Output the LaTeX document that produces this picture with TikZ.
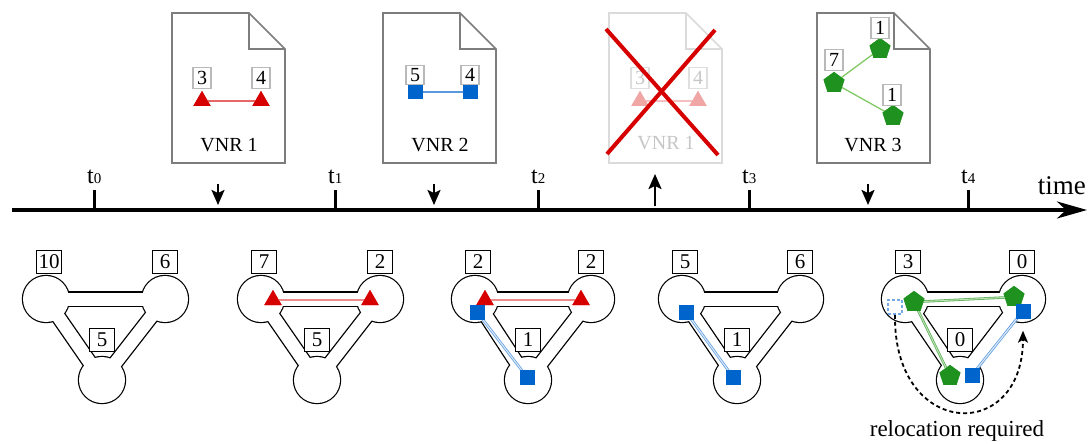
\documentclass[tikz,border=0pt]{standalone}
\usepackage{fontspec}
\setmainfont{Liberation Serif}
\usetikzlibrary{shapes.geometric,arrows.meta}

\definecolor{vred}{RGB}{215,0,0}
\definecolor{vblue}{RGB}{0,100,205}
\definecolor{vgreen}{RGB}{30,145,30}
\definecolor{vgreenl}{RGB}{130,200,100}
\definecolor{docgray}{RGB}{125,125,125}

\tikzset{
  docline/.style={draw=docgray, line width=1.6pt, fill=white, line join=miter},
  hub/.style={circle, minimum size=46pt, inner sep=0pt, draw=none},
  rim/.style={line width=15.6pt, black},
  bore/.style={line width=13pt, white},
  capbox/.style={draw, fill=white, line width=1.2pt, inner sep=0pt,
    minimum width=25pt, minimum height=23pt, font=\fontsize{21}{21}\selectfont},
  dcapbox/.style={draw=gray!55, fill=white, line width=1.1pt, inner sep=0pt,
    minimum width=18pt, minimum height=21pt, font=\fontsize{20}{20}\selectfont},
  tri/.style={regular polygon, regular polygon sides=3, fill=vred, inner sep=0pt, minimum size=20pt},
  pent/.style={regular polygon, regular polygon sides=5, fill=vgreen, inner sep=0pt, minimum size=22pt},
  sq/.style={rectangle, fill=vblue, inner sep=0pt, minimum size=15pt},
  ghostsq/.style={rectangle, draw=vblue!55, fill=white, dash pattern=on 3pt off 2pt,
    line width=1.5pt, inner sep=0pt, minimum size=14pt},
  redmap/.style={draw=vred, double=vred!45, double distance=1.1pt, line width=0.9pt},
  bluemap/.style={draw=vblue!60, double=vblue!15, double distance=1.1pt, line width=0.8pt},
  greenmap/.style={draw=vgreen!70, double=vgreenl!50, double distance=0.9pt, line width=0.8pt},
  vred link/.style={draw=vred!60, line width=1.2pt},
  vblue link/.style={draw=vblue!65, line width=1.2pt},
  vgreen link/.style={draw=vgreenl, line width=1.3pt},
  doctext/.style={font=\fontsize{20}{20}\selectfont},
  tlabel/.style={font=\fontsize{24}{24}\selectfont, inner sep=0pt, anchor=base west},
  tickmark/.style={line width=3pt},
  event/.style={line width=2.2pt, -{Stealth[length=15pt,width=13pt,inset=3pt]}},
}

% t with a small index
\newcommand\tmark[1]{t{\fontsize{15}{15}\selectfont #1}}

% substrate network: three hubs joined by hollow channels
\newcommand\subnet[4]{%
  \node[hub] (#1a) at (#2,299) {};
  \node[hub] (#1b) at (#3,299) {};
  \node[hub] (#1c) at (#4,380) {};
  \foreach \u/\v in {a/b,a/c,b/c} \draw[rim] (#1\u.center) -- (#1\v.center);
  \foreach \u in {a,b,c} \fill (#1\u) circle[radius=24.2pt];
  \foreach \u/\v in {a/b,a/c,b/c} \draw[bore] (#1\u.center) -- (#1\v.center);
  \foreach \u in {a,b,c} \fill[white] (#1\u) circle[radius=23pt];
}
% capacity boxes of a substrate network
\newcommand\subcaps[4]{%
  \node[capbox] (#1ka) at ([xshift=3pt,yshift=37pt]#1a.center) {#2};
  \node[capbox] (#1kb) at ([yshift=37pt]#1b.center) {#3};
  \node[capbox] (#1kc) at ([yshift=40pt]#1c.center) {#4};
}
% request sheet with folded corner
\newcommand\sheet[3]{%
  \draw[#3] (#2,13) -- ++(77,0) -- ++(36,36) -- ++(0,114) -- ++(-113,0) -- cycle;
  \draw[#3, fill=none] (#2+77,13) -- ++(0,36) -- ++(36,0);
  \coordinate (#1) at (#2+56.5,88);
}

\begin{document}
\begin{tikzpicture}[x=1pt, y=-1pt]
\useasboundingbox (0,0) rectangle (1088,444);

% ---------- time axis ----------
\coordinate (axisL) at (12,210);
\coordinate (axisR) at (1087,210);
\draw[line width=3.2pt, -{Stealth[length=30pt,width=17pt,inset=9pt]}] (axisL) -- (axisR);
\node[font=\fontsize{27}{27}\selectfont, anchor=east, inner sep=0pt] (timelbl) at (1086,186) {time};

\foreach \i/\x in {0/94,1/335,2/538,3/749,4/968}{
  \coordinate (k\i) at (\x,210);
  \draw[tickmark] (k\i) -- ++(0,-20);
  \node[tlabel] (tl\i) at (\x-7,183) {\tmark{\i}};
}

% arrival / departure events
\coordinate (e1a) at (218,184); \coordinate (e1b) at (218,205);
\coordinate (e2a) at (434,184); \coordinate (e2b) at (434,205);
\coordinate (e3a) at (655,206); \coordinate (e3b) at (655,174);
\coordinate (e4a) at (868,184); \coordinate (e4b) at (868,205);
\draw[event] (e1a) -- (e1b);
\draw[event] (e2a) -- (e2b);
\draw[event] (e3a) -- (e3b);
\draw[event] (e4a) -- (e4b);

% ---------- VNR 1 ----------
\sheet{d1}{172}{docline}
\node[tri] (d1x) at (202,101) {};
\node[tri] (d1y) at (261,101) {};
\draw[vred link] (d1x.center) -- (d1y.center);
\node[tri] at (d1x) {};
\node[tri] at (d1y) {};
\node[dcapbox] (d1kx) at (202,78) {3};
\node[dcapbox] (d1ky) at (261,78) {4};
\node[doctext] (d1t) at (229,145) {VNR 1};

% ---------- VNR 2 ----------
\sheet{d2}{383}{docline}
\node[sq] (d2x) at (415,92) {};
\node[sq] (d2y) at (470,92) {};
\draw[vblue link] (d2x.center) -- (d2y.center);
\node[sq] at (d2x) {};
\node[sq] at (d2y) {};
\node[dcapbox, minimum height=19pt] (d2kx) at (415,75) {5};
\node[dcapbox, minimum height=19pt] (d2ky) at (470,75) {4};
\node[doctext] (d2t) at (440,145) {VNR 2};

% ---------- VNR 1 withdrawn ----------
\sheet{d3}{609}{docline, draw=gray!28}
\node[tri, fill=vred!35] (d3x) at (640,101) {};
\node[tri, fill=vred!35] (d3y) at (698,101) {};
\draw[draw=vred!25, line width=1.2pt] (d3x.center) -- (d3y.center);
\node[tri, fill=vred!35] at (d3x) {};
\node[tri, fill=vred!35] at (d3y) {};
\node[dcapbox, draw=gray!25, text=gray!45] (d3kx) at (640,78) {3};
\node[dcapbox, draw=gray!25, text=gray!45] (d3ky) at (698,78) {4};
\node[doctext, text=gray!45] (d3t) at (666,143) {VNR 1};
\draw[vred, line width=4pt] (606,29) -- (718,155);
\draw[vred, line width=4pt] (715,30) -- (607,154);

% ---------- VNR 3 ----------
\sheet{d4}{817}{docline}
\node[pent] (d4x) at (834,83) {};
\node[pent] (d4y) at (880,49) {};
\node[pent] (d4z) at (893,116) {};
\draw[vgreen link] (d4x.center) -- (d4y.center);
\draw[vgreen link] (d4x.center) -- (d4z.center);
\node[pent] at (d4x) {};
\node[pent] at (d4y) {};
\node[pent] at (d4z) {};
\node[dcapbox] (d4kx) at (834,60) {7};
\node[dcapbox] (d4ky) at (880,28) {1};
\node[dcapbox] (d4kz) at (892,95) {1};
\node[doctext] (d4t) at (873,145) {VNR 3};

% ---------- substrate at t0 ----------
\subnet{s1}{46}{165}{102}
\subcaps{s1}{10}{6}{5}

% ---------- substrate at t1 ----------
\subnet{s2}{261}{380}{317}
\node[tri] (s2x) at (273,300) {};
\node[tri] (s2y) at (370,300) {};
\draw[redmap] (s2x.center) -- (s2y.center);
\node[tri] at (s2x) {};
\node[tri] at (s2y) {};
\subcaps{s2}{7}{2}{5}

% ---------- substrate at t2 ----------
\subnet{s3}{475}{591}{528}
\node[tri] (s3x) at (485,300) {};
\node[tri] (s3y) at (581,300) {};
\draw[redmap] (s3x.center) -- (s3y.center);
\node[sq] (s3p) at (477,312) {};
\node[sq] (s3q) at (527,377) {};
\draw[bluemap] (s3p.center) -- (s3q.center);
\node[tri] at (s3x) {};
\node[tri] at (s3y) {};
\node[sq] at (s3p) {};
\node[sq] at (s3q) {};
\subcaps{s3}{2}{2}{1}

% ---------- substrate at t3 ----------
\subnet{s4}{682}{800}{737}
\node[sq] (s4p) at (686,312) {};
\node[sq] (s4q) at (733,377) {};
\draw[bluemap] (s4p.center) -- (s4q.center);
\node[sq] at (s4p) {};
\node[sq] at (s4q) {};
\subcaps{s4}{5}{6}{1}

% ---------- substrate at t4 ----------
\subnet{s5}{905}{1022}{960}
\node[ghostsq] (s5g) at (895,307) {};
\node[pent] (s5x) at (914,302) {};
\node[pent] (s5y) at (1014,297) {};
\node[pent] (s5z) at (950,376) {};
\node[sq] (s5p) at (1023,311) {};
\node[sq] (s5q) at (972,375) {};
\draw[greenmap] (s5x.center) -- (s5y.center);
\draw[greenmap] (s5x.center) -- (s5z.center);
\draw[bluemap] (s5q.center) -- (s5p.center);
\node[pent] at (s5x) {};
\node[pent] at (s5y) {};
\node[pent] at (s5z) {};
\node[sq] at (s5p) {};
\node[sq] at (s5q) {};
\subcaps{s5}{3}{0}{0}
\draw[line width=1.8pt, dash pattern=on 4pt off 3pt, shorten >=12pt,
  -{Stealth[length=12pt,width=10pt,inset=3pt]}]
  (s5g.south) .. controls (893,439) and (1023,444) .. (s5p.south);
\node[font=\fontsize{23}{23}\selectfont, inner sep=0pt] (reloc) at (957,431) {relocation required};

\end{tikzpicture}
\end{document}
